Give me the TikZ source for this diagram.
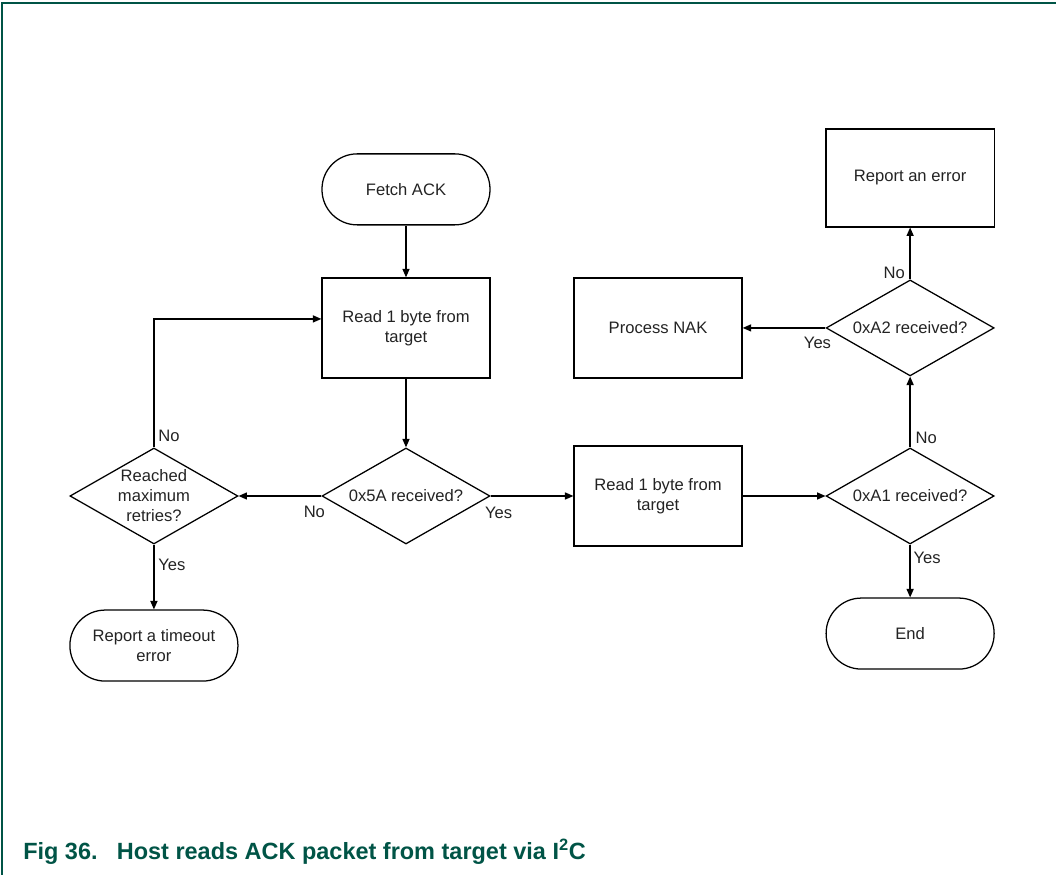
\documentclass[tikz,border=0pt]{standalone}
\usepackage{fontspec}
\setmainfont{Liberation Sans}
\usetikzlibrary{shapes.geometric, arrows.meta, positioning, calc}
\definecolor{capgreen}{RGB}{0, 84, 70}
\definecolor{inkgray}{RGB}{35, 35, 35}

\begin{document}
\begin{tikzpicture}[
  node distance=1.72cm and 2.07cm,
  term/.style={rectangle, rounded corners=0.88cm, draw, line width=0.9pt,
               minimum width=4.2cm, minimum height=1.775cm, align=center,
               text=inkgray, font=\fontsize{11.8}{14.2}\selectfont},
  proc/.style={rectangle, draw, line width=0.9pt,
               minimum width=4.2cm, minimum height=2.5cm, align=center,
               text=inkgray, font=\fontsize{11.8}{14.2}\selectfont},
  dec/.style={diamond, aspect=1.75, inner sep=0pt, draw, line width=0.9pt,
              minimum width=4.2cm, minimum height=2.4cm, align=center,
              text=inkgray, font=\fontsize{11.8}{14.2}\selectfont},
  lbl/.style={inner sep=0pt, text=inkgray, font=\fontsize{11.8}{14.2}\selectfont},
  arr/.style={-{Triangle[length=6pt, width=5pt]}, line width=0.9pt}
]
\useasboundingbox (-10.15,12.4) rectangle (16.25,-9.475);
\draw[capgreen, line width=0.8pt] (-10.1,-9.475) -- (-10.1,12.325) -- (16.25,12.325);

% main column
\node[dec] (chk5a) at (0,0) {0x5A received?};
\node[proc, above=1.72cm of chk5a] (read1) {Read 1 byte from\\target};
\node[term, above=1.295cm of read1] (fetch) {Fetch ACK};

% retry branch
\node[dec, left=2.07cm of chk5a] (retry) {Reached\\maximum\\retries?};
\node[term, below=1.62cm of retry] (timeout) {Report a timeout\\error};

% second read and checks
\node[proc, right=2.07cm of chk5a] (read2) {Read 1 byte from\\target};
\node[dec, right=2.07cm of read2] (chka1) {0xA1 received?};
\node[term, below=1.32cm of chka1] (done) {End};
\node[dec, above=1.77cm of chka1] (chka2) {0xA2 received?};
\node[proc, left=2.07cm of chka2] (nak) {Process NAK};
\node[proc, above=1.295cm of chka2, minimum height=2.45cm] (err) {Report an error};

\coordinate (loopin) at ([yshift=0.225cm]read1.west);

\draw[arr] (fetch) -- (read1);
\draw[arr] (read1) -- (chk5a);
\draw[arr] (chk5a.west) -- (retry.east);
\draw[arr] (chk5a.east) -- (read2.west);
\draw[arr] (retry.north) |- (loopin);
\draw[arr] (retry.south) -- (timeout.north);
\draw[arr] (read2.east) -- (chka1.west);
\draw[arr] (chka1.south) -- (done.north);
\draw[arr] (chka1.north) -- (chka2.south);
\draw[arr] (chka2.west) -- (nak.east);
\draw[arr] (chka2.north) -- (err.south);

% branch labels
\node[lbl, xshift=0.375cm, yshift=0.275cm] at (retry.north) (l1) {No};
\node[lbl, xshift=0.45cm, yshift=-0.5cm] at (retry.south) (l2) {Yes};
\node[lbl, xshift=-0.175cm, yshift=-0.4cm] at (chk5a.west) (l3) {No};
\node[lbl, xshift=0.2cm, yshift=-0.425cm] at (chk5a.east) (l4) {Yes};
\node[lbl, xshift=0.4cm, yshift=0.225cm] at (chka1.north) (l5) {No};
\node[lbl, xshift=0.425cm, yshift=-0.325cm] at (chka1.south) (l6) {Yes};
\node[lbl, xshift=-0.4cm, yshift=0.15cm] at (chka2.north) (l7) {No};
\node[lbl, xshift=-0.2cm, yshift=-0.375cm] at (chka2.west) (l8) {Yes};

% caption
\node[anchor=base west, inner sep=0pt, text=capgreen,
      font=\fontsize{16.7}{20}\selectfont\bfseries] (cap) at (-9.575,-9.075)
  {Fig 36.\hspace{0.48cm}Host reads ACK packet from target via I\textsuperscript{2}C};
\end{tikzpicture}
\end{document}
